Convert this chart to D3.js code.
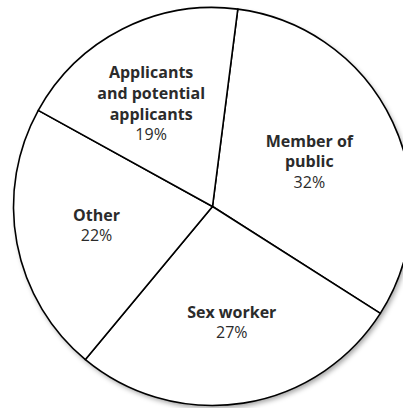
<!DOCTYPE html>
<html>
<head>
<meta charset="utf-8">
<script src="https://cdn.jsdelivr.net/npm/d3@7"></script>
<style>
  html, body { margin: 0; padding: 0; background: #fff; }
  svg { display: block; }
</style>
</head>
<body>
<svg id="chart" width="403" height="408"></svg>
<script>
// Data
const categories = ["Member of public", "Sex worker", "Other", "Applicants and potential applicants"];
const labelLines = [["Member of", "public"], ["Sex worker"], ["Other"], ["Applicants", "and potential", "applicants"]];
const values = [32, 27, 22, 19];

const W = 403, H = 408;
const cx = 212.5, cy = 206.5, R = 199;
const startDeg = 7.3;

const svg = d3.select("#chart");

const defs = svg.append("defs");
const f = defs.append("filter").attr("id", "shadow").attr("x", "-10%").attr("y", "-10%").attr("width", "120%").attr("height", "120%");
f.append("feDropShadow").attr("dx", 2).attr("dy", 3).attr("stdDeviation", 2.5).attr("flood-color", "#000").attr("flood-opacity", 0.35);

const g = svg.append("g").attr("transform", `translate(${cx},${cy})`);

const start = startDeg * Math.PI / 180;
const pie = d3.pie().sort(null).value(d => d).startAngle(start).endAngle(start + 2 * Math.PI);
const arcs = pie(values);

const arc = d3.arc().innerRadius(0).outerRadius(R);
const labelArc = d3.arc().innerRadius(118).outerRadius(118);

// shadowed base circle
g.append("circle").attr("r", R).attr("fill", "#fff").attr("filter", "url(#shadow)");

g.selectAll("path.slice")
  .data(arcs)
  .join("path")
  .attr("class", "slice")
  .attr("d", arc)
  .attr("fill", "#fff")
  .attr("stroke", "#000")
  .attr("stroke-width", 1.6)
  .attr("stroke-linejoin", "round");

const nudges = [[-10, 6], [1, 0], [0, -2.4], [-8, 3]];
const lh = 20.7;

const labels = g.selectAll("text.lab")
  .data(arcs)
  .join("text")
  .attr("class", "lab")
  .attr("text-anchor", "middle")
  .attr("font-family", "'Open Sans', sans-serif")
  .attr("font-size", 16)
  .attr("fill", "#2b2b2b")
  .each(function(d, i) {
    const [x0, y0] = labelArc.centroid(d);
    const x = x0 + nudges[i][0], y = y0 + nudges[i][1];
    const lines = labelLines[i].map(t => ({ t, bold: true }))
      .concat([{ t: d3.format(".0f")(d.value) + "%", bold: false }]);
    const n = lines.length;
    const t = d3.select(this);
    lines.forEach((ln, k) => {
      t.append("tspan")
        .attr("x", x)
        .attr("y", y + (k - (n - 1) / 2) * lh + 5)
        .attr("font-weight", ln.bold ? 700 : 400)
        .text(ln.t);
    });
  });
</script>
</body>
</html>
